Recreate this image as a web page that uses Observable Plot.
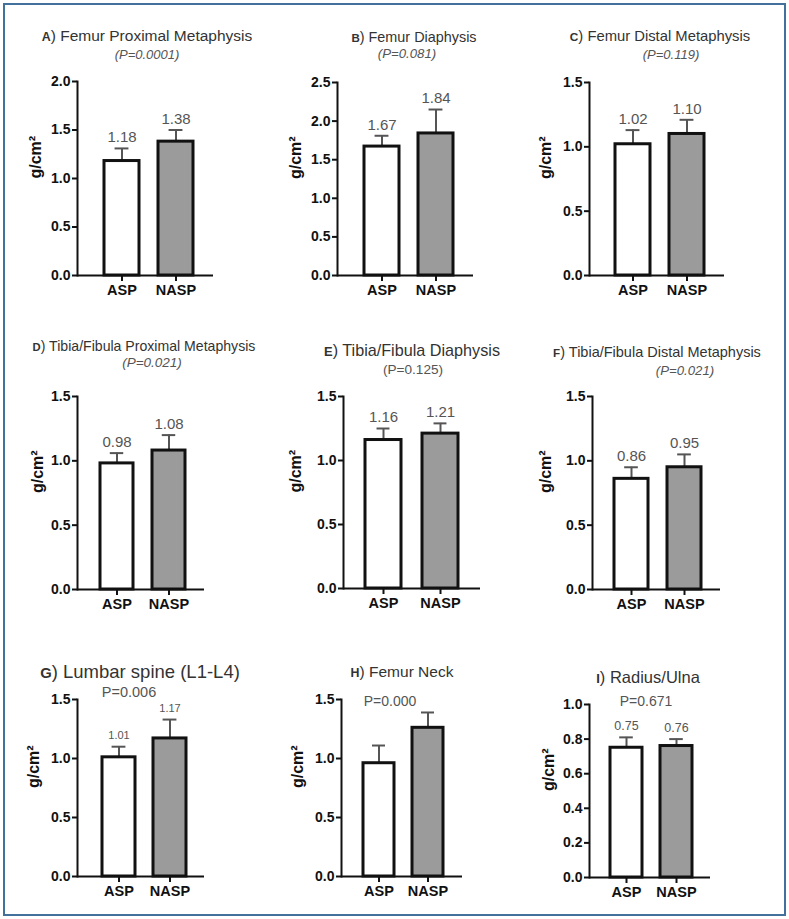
<!DOCTYPE html>
<html><head><meta charset="utf-8">
<script src="https://cdn.jsdelivr.net/npm/d3@7"></script>
<script src="https://cdn.jsdelivr.net/npm/@observablehq/plot@0.6"></script>
<style>
body{margin:0;background:#fff;font-family:"Liberation Sans",Arial,sans-serif;}
#root{position:relative;width:789px;height:919px;overflow:hidden;background:#fff}
#frame{position:absolute;left:3px;top:3px;width:783px;height:913px;border:2px solid #41719c;box-sizing:border-box}
.t{position:absolute;transform:translate(-50%,-50%);white-space:nowrap;color:#333;line-height:1}
.t b{font-size:0.8em}
.p{position:absolute;transform:translate(-50%,-50%);white-space:nowrap;color:#555;line-height:1}
svg.plot{position:absolute;max-width:none}
svg.plot g[aria-label="y-axis tick label"] text{font-size:14px;font-weight:bold;fill:#111}
svg.plot g[aria-label="x-axis tick label"] text{font-size:14.5px;font-weight:bold;fill:#111}
</style></head><body><div id="root"><div id="frame"></div></div>
<script>
// ---- data ----
const panelLetters = ["A","B","C","D","E","F","G","H","I"];
const panelTitles = ["Femur Proximal Metaphysis","Femur Diaphysis","Femur Distal Metaphysis",
  "Tibia/Fibula Proximal Metaphysis","Tibia/Fibula Diaphysis","Tibia/Fibula Distal Metaphysis",
  "Lumbar spine (L1-L4)","Femur Neck","Radius/Ulna"];
const pLabels = ["(P=0.0001)","(P=0.081)","(P=0.119)","(P=0.021)","(P=0.125)","(P=0.021)","P=0.006","P=0.000","P=0.671"];
const groups = ["ASP","NASP"];
const aspMean  = [1.18, 1.67, 1.02, 0.98, 1.16, 0.86, 1.01, 0.96, 0.75];
const naspMean = [1.38, 1.84, 1.10, 1.08, 1.21, 0.95, 1.17, 1.26, 0.76];
const aspErr   = [1.31, 1.81, 1.13, 1.06, 1.25, 0.95, 1.10, 1.11, 0.81];
const naspErr  = [1.50, 2.15, 1.21, 1.20, 1.29, 1.05, 1.33, 1.39, 0.80];
const showValues = [true, true, true, true, true, true, true, false, true];
const yMax = [2.0, 2.5, 1.5, 1.5, 1.5, 1.5, 1.5, 1.5, 1.0];
const yTicks = [
  [0,0.5,1.0,1.5,2.0],[0,0.5,1.0,1.5,2.0,2.5],[0,0.5,1.0,1.5],
  [0,0.5,1.0,1.5],[0,0.5,1.0,1.5],[0,0.5,1.0,1.5],
  [0,0.5,1.0,1.5],[0,0.5,1.0,1.5],[0,0.2,0.4,0.6,0.8,1.0]];
const yLabel = "g/cm²";

// ---- layout (page pixels) ----
const layout = [
  {axisX:77, xEnd:213, yTop:81, y0:275, barL:103, barR:193},
  {axisX:337, xEnd:473, yTop:82, y0:275, barL:363, barR:453},
  {axisX:589, xEnd:724, yTop:82, y0:275, barL:614, barR:704},
  {axisX:77, xEnd:204, yTop:396, y0:589, barL:100, barR:186},
  {axisX:343, xEnd:480, yTop:396, y0:588, barL:364, barR:459},
  {axisX:592, xEnd:720, yTop:396, y0:589, barL:613, barR:701},
  {axisX:77, xEnd:204, yTop:699, y0:876, barL:101, barR:186},
  {axisX:341, xEnd:462, yTop:699, y0:876, barL:362, barR:444},
  {axisX:589, xEnd:710, yTop:704, y0:877, barL:609, barR:692}
];
const titleStyle = [
  {cx:147, cy:36, fs:15.5}, {cx:414, cy:37, fs:14.4}, {cx:660, cy:36, fs:14.8},
  {cx:144, cy:346, fs:14.1}, {cx:412, cy:350, fs:16.2}, {cx:657, cy:352, fs:14.5},
  {cx:140, cy:672, fs:18.5}, {cx:402, cy:672, fs:15.5}, {cx:648, cy:677, fs:16.5}
];
const subStyle = [
  {cx:147, cy:54, fs:13, it:true}, {cx:407, cy:54, fs:13.2, it:true}, {cx:671, cy:54, fs:13, it:true},
  {cx:152, cy:363, fs:13.5, it:true}, {cx:413, cy:370, fs:13.6, it:false}, {cx:685, cy:371, fs:13.2, it:true},
  {cx:129, cy:692, fs:14.5, it:false}, {cx:390, cy:701, fs:14, it:false}, {cx:646, cy:701, fs:14, it:false}
];
const valueFont = [15, 15, 15, 15, 15, 15, 11, 12, 12.5];
const ylabOffset = [42, 42, 44, 40, 48, 47, 44, 44, 41];

const root = document.getElementById("root");
panelLetters.forEach((letter, i) => {
  const L = layout[i];
  const data = groups.map((g, j) => ({group: g, mean: j ? naspMean[i] : aspMean[i], err: j ? naspErr[i] : aspErr[i]}));
  const mL = 60, mR = 10, mT = 12, mB = 35;
  const svgLeft = L.axisX - mL, svgTop = L.yTop - mT;
  const width = L.xEnd - L.axisX + mL + mR;
  const height = L.y0 - L.yTop + mT + mB;
  const pin = 0.36;
  const bw = (L.barR - L.barL) / (2 - pin) * (1 - pin);
  const capInset = Math.max(0, (bw - 14) / 2);
  const marks = [
    Plot.ruleX(data, {x: "group", y1: "mean", y2: "err", stroke: "#555", strokeWidth: 2}),
    Plot.tickY(data, {x: "group", y: "err", stroke: "#555", strokeWidth: 2, insetLeft: capInset, insetRight: capInset}),
    Plot.barY(data, {x: "group", y: "mean", fill: "group", stroke: "#111", strokeWidth: 3}),
    Plot.ruleY([0], {stroke: "#111", strokeWidth: 2}),
    Plot.frame({anchor: "left", stroke: "#111", strokeWidth: 2}),
    Plot.axisY({ticks: yTicks[i], tickFormat: d3.format(".1f"), tickSize: 5, tickPadding: 2, strokeWidth: 2,
      fontSize: 14, fontWeight: "bold", label: null}),
    Plot.axisX({tickSize: 6, tickPadding: 3, strokeWidth: 2, fontSize: 14.5, fontWeight: "bold", label: null}),
    Plot.text([yLabel], {text: d => d, frameAnchor: "left", rotate: -90, dx: -ylabOffset[i], fontSize: 16, fontWeight: "bold", fill: "#111"})
  ];
  if (showValues[i]) {
    marks.push(Plot.text(data, {x: "group", y: "err", text: d => d.mean.toFixed(2), dy: -11, fill: "#555", fontSize: valueFont[i]}));
  }
  const chart = Plot.plot({
    width, height, marginLeft: mL, marginRight: mR, marginTop: mT, marginBottom: mB,
    style: {fontFamily: '"Liberation Sans", Arial, sans-serif', color: "#111", background: "transparent", overflow: "visible"},
    x: {domain: groups, range: [L.barL - svgLeft, L.barR - svgLeft], paddingInner: pin, paddingOuter: 0},
    y: {domain: [0, yMax[i]], nice: false},
    color: {domain: groups, range: ["#ffffff", "#9b9b9b"]},
    marks
  });
  chart.classList.add("plot");
  chart.style.left = svgLeft + "px";
  chart.style.top = svgTop + "px";
  root.appendChild(chart);

  const T = titleStyle[i];
  const t = document.createElement("div");
  t.className = "t";
  t.style.left = T.cx + "px"; t.style.top = T.cy + "px"; t.style.fontSize = T.fs + "px";
  t.innerHTML = "<b>" + letter + "</b>) " + panelTitles[i];
  root.appendChild(t);

  const S = subStyle[i];
  const s = document.createElement("div");
  s.className = "p";
  s.style.left = S.cx + "px"; s.style.top = S.cy + "px"; s.style.fontSize = S.fs + "px";
  s.style.fontStyle = S.it ? "italic" : "normal";
  s.textContent = pLabels[i];
  root.appendChild(s);
});
</script>
</body></html>
